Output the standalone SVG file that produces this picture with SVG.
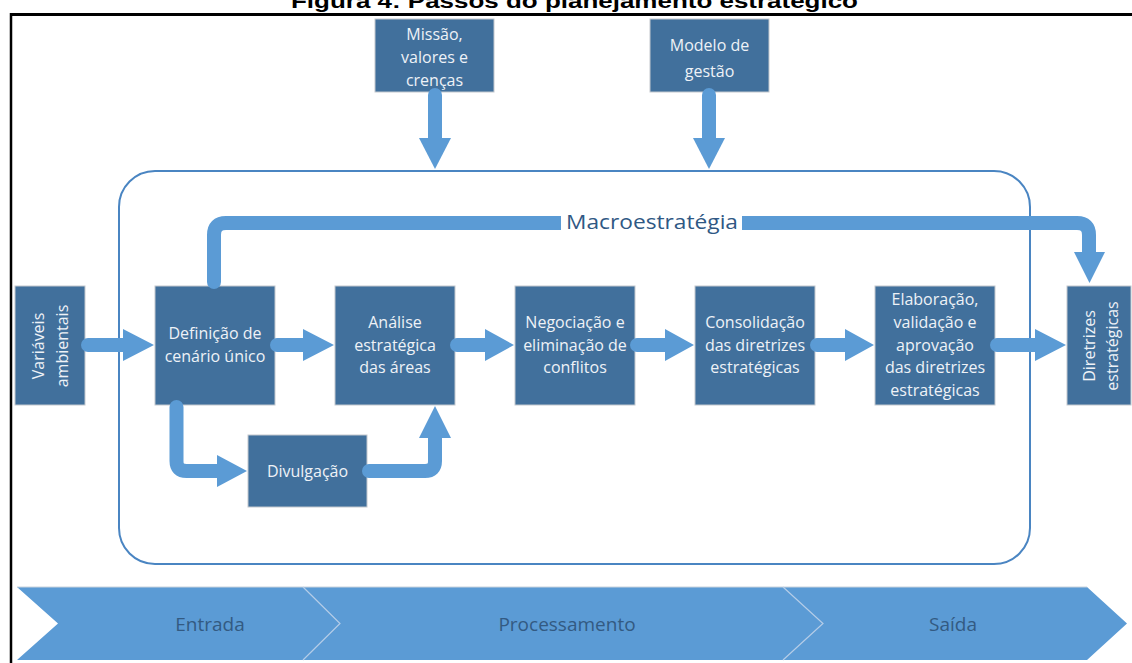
<svg xmlns="http://www.w3.org/2000/svg" width="1132" height="663" viewBox="0 0 1132 663">
<style>
.box{fill:#41709c;stroke:#c3c8ce;stroke-width:1}
.bt{font-family:"Open Sans","DejaVu Sans",sans-serif;font-size:16px;fill:#eef2f7;text-anchor:middle}
.sh{fill:none;stroke:#5b9bd5;stroke-width:14;stroke-linecap:round;stroke-linejoin:round}
.hd{fill:#5b9bd5}
.ch{font-family:"Open Sans","DejaVu Sans",sans-serif;font-size:19px;fill:#335a82;text-anchor:middle}
</style>
<rect width="1132" height="663" fill="#ffffff"/>
<text x="291" y="8" font-family="Liberation Sans, Arial, sans-serif" font-weight="bold" font-size="21" textLength="567" lengthAdjust="spacingAndGlyphs" fill="#000">Figura 4: Passos do planejamento estratégico</text>
<g id="frame">
<line x1="10" y1="14.5" x2="1132" y2="14.5" stroke="#000" stroke-width="3"/>
<line x1="11" y1="13" x2="11" y2="663" stroke="#000" stroke-width="2.5"/>
</g>
<g id="container">
<rect x="119" y="171" width="911" height="393" rx="36" ry="36" fill="none" stroke="#4a85c2" stroke-width="2"/>
</g>
<g id="phases">
<polygon points="17,587 1087,587 1127,623.5 1087,660 17,660 58,623.5" fill="#5b9bd5"/>
<line x1="17" y1="587" x2="1087" y2="587" stroke="#c9d3dd" stroke-width="1"/>
<polyline points="303,587 340,623.5 303,660" fill="none" stroke="#b5cde8" stroke-width="1.2"/>
<polyline points="783,587 823,623.5 783,660" fill="none" stroke="#b5cde8" stroke-width="1.2"/>
<text class="ch" x="210" y="631">Entrada</text>
<text class="ch" x="567" y="631">Processamento</text>
<text class="ch" x="953" y="631">Saída</text>
</g>
<g id="n-missao">
<rect class="box" x="375" y="19" width="119" height="73"/>
<text class="bt" x="434.5" y="40">Missão,</text>
<text class="bt" x="434.5" y="63">valores e</text>
<text class="bt" x="434.5" y="86">crenças</text>
</g>
<g id="n-modelo">
<rect class="box" x="650" y="19" width="119" height="73"/>
<text class="bt" x="709.5" y="51">Modelo de</text>
<text class="bt" x="709.5" y="77">gestão</text>
</g>
<g id="n-variaveis">
<rect class="box" x="15" y="286" width="70" height="119"/>
<g transform="translate(50,346) rotate(-90)">
<text class="bt" x="0" y="-6.5">Variáveis</text>
<text class="bt" x="0" y="17.5">ambientais</text>
</g>
</g>
<g id="n-definicao">
<rect class="box" x="155" y="286" width="120" height="119"/>
<text class="bt" x="215" y="339">Definição de</text>
<text class="bt" x="215" y="362">cenário único</text>
</g>
<g id="n-analise">
<rect class="box" x="335" y="286" width="120" height="119"/>
<text class="bt" x="395" y="328">Análise</text>
<text class="bt" x="395" y="351">estratégica</text>
<text class="bt" x="395" y="373">das áreas</text>
</g>
<g id="n-negociacao">
<rect class="box" x="515" y="286" width="120" height="119"/>
<text class="bt" x="575" y="328">Negociação e</text>
<text class="bt" x="575" y="351">eliminação de</text>
<text class="bt" x="575" y="373">conflitos</text>
</g>
<g id="n-consolidacao">
<rect class="box" x="695" y="286" width="120" height="119"/>
<text class="bt" x="755" y="328">Consolidação</text>
<text class="bt" x="755" y="351">das diretrizes</text>
<text class="bt" x="755" y="373">estratégicas</text>
</g>
<g id="n-elaboracao">
<rect class="box" x="875" y="286" width="120" height="119"/>
<text class="bt" x="935" y="305">Elaboração,</text>
<text class="bt" x="935" y="328">validação e</text>
<text class="bt" x="935" y="351">aprovação</text>
<text class="bt" x="935" y="373">das diretrizes</text>
<text class="bt" x="935" y="396">estratégicas</text>
</g>
<g id="n-diretrizes">
<rect class="box" x="1067" y="286" width="64" height="119"/>
<g transform="translate(1101,346) rotate(-90)">
<text class="bt" x="0" y="-6">Diretrizes</text>
<text class="bt" x="0" y="17">estratégicas</text>
</g>
</g>
<g id="n-divulgacao">
<rect class="box" x="248" y="435" width="119" height="72"/>
<text class="bt" x="307.5" y="477">Divulgação</text>
</g>
<g id="connectors">
<line class="sh" x1="435" y1="95" x2="435" y2="140"/>
<polygon class="hd" points="419,138 451,138 435,169"/>
<line class="sh" x1="709" y1="95" x2="709" y2="140"/>
<polygon class="hd" points="693,138 725,138 709,169"/>
<line class="sh" x1="88" y1="345" x2="125" y2="345"/>
<polygon class="hd" points="123,329 123,361 154,345"/>
<line class="sh" x1="277" y1="345" x2="305" y2="345"/>
<polygon class="hd" points="303,329 303,361 334,345"/>
<line class="sh" x1="457" y1="345" x2="487" y2="345"/>
<polygon class="hd" points="485,329 485,361 514,345"/>
<line class="sh" x1="637" y1="345" x2="667" y2="345"/>
<polygon class="hd" points="665,329 665,361 694,345"/>
<line class="sh" x1="817" y1="345" x2="847" y2="345"/>
<polygon class="hd" points="845,329 845,361 874,345"/>
<line class="sh" x1="997" y1="345" x2="1037" y2="345"/>
<polygon class="hd" points="1035,329 1035,361 1066,345"/>
<path class="sh" d="M214,282 V235 Q214,223 226,223 H1077 Q1089,223 1089,235 V254"/>
<polygon class="hd" points="1074,252 1105,252 1089.5,283"/>
<rect x="561" y="210" width="181" height="26" fill="#ffffff"/>
<text x="652" y="229" font-family="Open Sans, DejaVu Sans, sans-serif" font-size="20" fill="#2f5884" text-anchor="middle" textLength="172" lengthAdjust="spacingAndGlyphs">Macroestratégia</text>
<path class="sh" d="M176.5,407 V461 Q176.5,471 186.5,471 H219"/>
<polygon class="hd" points="217,455 217,487 247,471"/>
<path class="sh" d="M369,471 H425 Q435,471 435,461 V436"/>
<polygon class="hd" points="419,438 451,438 435,406"/>
</g>
</svg>
